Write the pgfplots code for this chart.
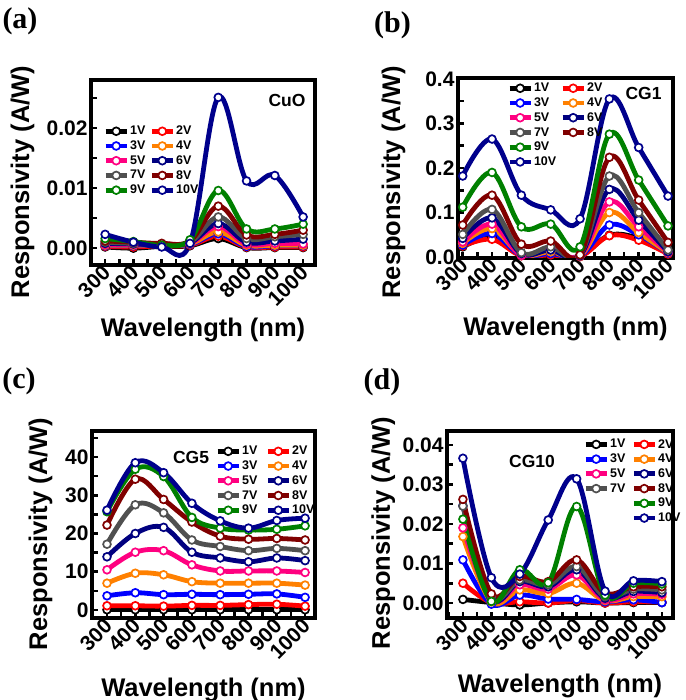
\documentclass[border=0pt]{standalone}
\usepackage{pgfplots}
\usepackage{pgfplotstable}
\pgfplotsset{compat=1.18}
\usepackage{fontspec}
\setmainfont{Liberation Sans}
\newfontfamily\serifb{Liberation Serif}

\definecolor{c1}{RGB}{0,0,0}
\definecolor{c2}{RGB}{255,0,0}
\definecolor{c3}{RGB}{0,0,255}
\definecolor{c4}{RGB}{255,128,0}
\definecolor{c5}{RGB}{255,0,128}
\definecolor{c6}{RGB}{0,0,128}
\definecolor{c7}{RGB}{80,80,80}
\definecolor{c8}{RGB}{128,0,0}
\definecolor{c9}{RGB}{0,128,0}
\definecolor{c10}{RGB}{0,0,140}

\pgfplotstableread{
x v1 v2 v3 v4 v5 v6 v7 v8 v9 v10
300 0.0002 0.0003 0.0004 0.0005 0.0006 0.0008 0.0010 0.0012 0.0016 0.0023
400 0.0000 0.0002 0.0004 0.0005 0.0006 0.0007 0.0008 0.0010 0.0011 0.0010
500 0.0003 0.0004 0.0005 0.0005 0.0006 0.0006 0.0007 0.0008 0.0005 0.0002
600 0.0004 0.0005 0.0006 0.0007 0.0008 0.0009 0.0010 0.0012 0.0014 0.0008
700 0.0016 0.0020 0.0024 0.0027 0.0036 0.0041 0.0052 0.0070 0.0096 0.0251
800 0.0001 0.0002 0.0003 0.0005 0.0007 0.0010 0.0016 0.0022 0.0032 0.0112
900 0.0001 0.0002 0.0004 0.0005 0.0008 0.0012 0.0019 0.0023 0.0032 0.0121
1000 0.0001 0.0002 0.0004 0.0005 0.0007 0.0015 0.0023 0.0030 0.0040 0.0052
}\dataA

\pgfplotstableread{
x v1 v2 v3 v4 v5 v6 v7 v8 v9 v10
300 0.023 0.025 0.027 0.031 0.034 0.042 0.051 0.072 0.112 0.182
400 0.044 0.040 0.053 0.064 0.074 0.088 0.107 0.139 0.190 0.265
500 0.004 0.003 0.004 0.005 0.004 0.008 0.010 0.029 0.068 0.139
600 0.004 0.005 0.008 0.012 0.020 0.016 0.023 0.036 0.074 0.106
700 0.002 0.001 0.002 0.002 0.003 0.003 0.005 0.005 0.023 0.086
800 0.049 0.048 0.072 0.100 0.124 0.152 0.182 0.224 0.276 0.355
900 0.042 0.038 0.050 0.055 0.068 0.083 0.100 0.128 0.173 0.246
1000 0.010 0.007 0.009 0.010 0.011 0.012 0.016 0.033 0.070 0.137
}\dataB

\pgfplotstableread{
x v1 v2 v3 v4 v5 v6 v7 v8 v9 v10
300 0.05 1.1 3.7 7.0 10.5 13.9 17.2 22.2 25.7 26.1
400 0.05 1.1 4.5 9.6 15.1 20.0 27.5 34.2 36.8 38.5
500 0.05 1.0 4.0 9.2 15.5 21.6 25.4 28.9 34.9 35.9
600 0.05 1.2 4.1 7.4 11.8 15.1 18.3 23.0 24.2 27.9
700 0.05 1.2 4.0 7.0 10.2 13.6 16.6 19.3 21.4 23.3
800 0.05 1.4 4.1 7.0 10.2 12.6 15.5 18.5 20.9 21.4
900 0.05 1.5 4.2 7.0 10.2 13.6 16.1 18.7 21.1 23.4
1000 0.05 1.0 3.3 6.5 9.8 12.9 15.5 18.3 22.0 24.0
}\dataC

\pgfplotstableread{
x v1 v2 v3 v4 v5 v6 v7 v8 v9 v10
300 0.0009 0.0050 0.0109 0.0168 0.0190 0.0246 0.0245 0.0262 0.0212 0.0366
400 0.0001 0.0001 -0.0003 0.0003 0.0008 0.0012 0.0016 0.0023 0.0004 0.0064
500 -0.0005 0.0003 0.0020 0.0033 0.0046 0.0054 0.0058 0.0067 0.0084 0.0073
600 0.0000 0.0000 0.0010 0.0024 0.0035 0.0041 0.0046 0.0054 0.0051 0.0210
700 0.0003 0.0006 0.0009 0.0050 0.0071 0.0084 0.0092 0.0109 0.0244 0.0314
800 0.0000 0.0000 0.0003 0.0006 0.0008 0.0012 0.0016 0.0025 0.0020 0.0030
900 0.0001 0.0003 0.0008 0.0016 0.0023 0.0029 0.0035 0.0041 0.0050 0.0056
1000 0.0001 0.0002 0.0001 0.0016 0.0022 0.0026 0.0033 0.0041 0.0048 0.0054
}\dataD

\pgfplotsset{
  pl/.style={color=#1, line width=4.8pt, smooth, tension=0.6, mark=*, mark size=3.9pt,
    mark options={fill=white, draw=#1, line width=1.7pt, solid}},
  myax/.style={
    scale only axis,
    axis line style={line width=4.3pt, line cap=rect},
    tick align=inside,
    xtick pos=bottom, ytick pos=left,
    tick style={line width=2.6pt, black},
    major tick length=5.5pt, minor tick length=5.5pt,
    scaled y ticks=false,
    /pgf/number format/assume math mode=true,
    tick label style={font=\fontsize{21}{23}\selectfont\bfseries},
    xtick={300,400,500,600,700,800,900,1000},
    minor xtick={250,350,450,550,650,750,850,950,1050},
    xticklabel style={rotate=45, anchor=east, inner sep=1pt, yshift=-4pt, xshift=-1pt},
    xticklabel={\pgfmathprintnumber[fixed,precision=0,1000 sep={}]{\tick}},
    label style={font=\fontsize{25.5}{28}\selectfont\bfseries},
    xlabel={Wavelength (nm)},
    ylabel={Responsivity (A/W)},
    xlabel style={anchor=north},
    ylabel style={anchor=north},
    legend style={draw=none, fill=none, anchor=north west, inner sep=0pt,
      font=\fontsize{12.5}{13}\selectfont\bfseries, row sep=2.5pt,
      nodes={inner sep=1pt}},
    legend columns=2,
    legend cell align=left,
    legend image code/.code={\draw[mark repeat=2,mark phase=2,##1] plot coordinates {(0pt,0pt) (10.5pt,0pt) (21pt,0pt)};},
  },
}

\begin{document}
\begin{tikzpicture}
\useasboundingbox (0,0) rectangle (685pt,700pt);

% (a)
\begin{axis}[myax, at={(91pt,435pt)}, anchor=south west, width=224pt, height=185pt,
  xmin=250, xmax=1042, ymin=-0.0028, ymax=0.028,
  ytick={0,0.01,0.02}, minor ytick={0.005,0.015,0.025},
  yticklabel style={/pgf/number format/.cd,fixed,fixed zerofill,precision=2},
  ylabel style={at={(axis description cs:-0.375,0.449)}},
  xlabel style={at={(axis description cs:0.5,-0.27)}},
  legend style={at={(axis description cs:0.054,0.757)}, /tikz/every even column/.append style={column sep=3pt}}]
\addplot[pl=c1] table[y=v1]{\dataA}; \addlegendentry{1V}
\addplot[pl=c2] table[y=v2]{\dataA}; \addlegendentry{2V}
\addplot[pl=c3] table[y=v3]{\dataA}; \addlegendentry{3V}
\addplot[pl=c4] table[y=v4]{\dataA}; \addlegendentry{4V}
\addplot[pl=c5] table[y=v5]{\dataA}; \addlegendentry{5V}
\addplot[pl=c6] table[y=v6]{\dataA}; \addlegendentry{6V}
\addplot[pl=c7] table[y=v7]{\dataA}; \addlegendentry{7V}
\addplot[pl=c8] table[y=v8]{\dataA}; \addlegendentry{8V}
\addplot[pl=c9] table[y=v9]{\dataA}; \addlegendentry{9V}
\addplot[pl=c10] table[y=v10]{\dataA}; \addlegendentry{10V}
\end{axis}

% (b)
\begin{axis}[myax, at={(458pt,442pt)}, anchor=south west, width=215pt, height=180pt,
  xmin=284, xmax=1017, ymin=-0.002, ymax=0.402,
  ytick={0,0.1,0.2,0.3,0.4}, minor ytick={0.05,0.15,0.25,0.35},
  yticklabel style={/pgf/number format/.cd,fixed,fixed zerofill,precision=1},
  ylabel style={at={(axis description cs:-0.372,0.42)}},
  xlabel style={at={(axis description cs:0.5,-0.31)}},
  legend style={at={(axis description cs:0.228,0.978)}, /tikz/every even column/.append style={column sep=3pt}}]
\addplot[pl=c1] table[y=v1]{\dataB}; \addlegendentry{1V}
\addplot[pl=c2] table[y=v2]{\dataB}; \addlegendentry{2V}
\addplot[pl=c3] table[y=v3]{\dataB}; \addlegendentry{3V}
\addplot[pl=c4] table[y=v4]{\dataB}; \addlegendentry{4V}
\addplot[pl=c5] table[y=v5]{\dataB}; \addlegendentry{5V}
\addplot[pl=c6] table[y=v6]{\dataB}; \addlegendentry{6V}
\addplot[pl=c7] table[y=v7]{\dataB}; \addlegendentry{7V}
\addplot[pl=c8] table[y=v8]{\dataB}; \addlegendentry{8V}
\addplot[pl=c9] table[y=v9]{\dataB}; \addlegendentry{9V}
\addlegendimage{empty legend}\addlegendentry{}
\addplot[pl=c10] table[y=v10]{\dataB}; \addlegendentry{10V}
\end{axis}

% (c)
\begin{axis}[myax, at={(92pt,82pt)}, anchor=south west, width=223pt, height=187pt,
  xmin=247, xmax=1035, ymin=-2.1, ymax=46.8,
  ytick={0,10,20,30,40}, minor ytick={5,15,25,35,45},
  ylabel style={at={(axis description cs:-0.30,0.449)}},
  xlabel style={at={(axis description cs:0.5,-0.30)}},
  legend style={at={(axis description cs:0.552,0.925)}, /tikz/every even column/.append style={column sep=7pt}}]
\addplot[pl=c1] table[y=v1]{\dataC}; \addlegendentry{1V}
\addplot[pl=c2] table[y=v2]{\dataC}; \addlegendentry{2V}
\addplot[pl=c3] table[y=v3]{\dataC}; \addlegendentry{3V}
\addplot[pl=c4] table[y=v4]{\dataC}; \addlegendentry{4V}
\addplot[pl=c5] table[y=v5]{\dataC}; \addlegendentry{5V}
\addplot[pl=c6] table[y=v6]{\dataC}; \addlegendentry{6V}
\addplot[pl=c7] table[y=v7]{\dataC}; \addlegendentry{7V}
\addplot[pl=c8] table[y=v8]{\dataC}; \addlegendentry{8V}
\addplot[pl=c9] table[y=v9]{\dataC}; \addlegendentry{9V}
\addplot[pl=c10] table[y=v10]{\dataC}; \addlegendentry{10V}
\end{axis}

% (d)
\begin{axis}[myax, at={(447pt,82pt)}, anchor=south west, width=226pt, height=187pt,
  xmin=244, xmax=1039, ymin=-0.0038, ymax=0.0435,
  ytick={0,0.01,0.02,0.03,0.04}, minor ytick={0.005,0.015,0.025,0.035},
  yticklabel style={/pgf/number format/.cd,fixed,fixed zerofill,precision=2},
  ylabel style={at={(axis description cs:-0.35,0.455)}},
  xlabel style={at={(axis description cs:0.5,-0.283)}},
  legend style={at={(axis description cs:0.602,0.962)}, /tikz/every even column/.append style={column sep=5pt}}]
\addplot[pl=c1] table[y=v1]{\dataD}; \addlegendentry{1V}
\addplot[pl=c2] table[y=v2]{\dataD}; \addlegendentry{2V}
\addplot[pl=c3] table[y=v3]{\dataD}; \addlegendentry{3V}
\addplot[pl=c4] table[y=v4]{\dataD}; \addlegendentry{4V}
\addplot[pl=c5] table[y=v5]{\dataD}; \addlegendentry{5V}
\addplot[pl=c6] table[y=v6]{\dataD}; \addlegendentry{6V}
\addplot[pl=c7] table[y=v7]{\dataD}; \addlegendentry{7V}
\addplot[pl=c8] table[y=v8]{\dataD}; \addlegendentry{8V}
\addlegendimage{empty legend}\addlegendentry{}
\addplot[pl=c9] table[y=v9]{\dataD}; \addlegendentry{9V}
\addlegendimage{empty legend}\addlegendentry{}
\addplot[pl=c10] table[y=v10]{\dataD}; \addlegendentry{10V}
\end{axis}

% annotations
\node[font=\fontsize{17.5}{19}\selectfont\bfseries] at (287pt,600pt) {CuO};
\node[font=\fontsize{17.5}{19}\selectfont\bfseries] at (643.5pt,606.5pt) {CG1};
\node[font=\fontsize{17.5}{19}\selectfont\bfseries] at (191pt,243pt) {CG5};
\node[font=\fontsize{17.5}{19}\selectfont\bfseries] at (532pt,239pt) {CG10};

\node[font=\serifb\fontsize{30}{32}\selectfont\bfseries] at (20pt,679pt) {(a)};
\node[font=\serifb\fontsize{30}{32}\selectfont\bfseries] at (392.5pt,674.5pt) {(b)};
\node[font=\serifb\fontsize{30}{32}\selectfont\bfseries] at (19pt,318.5pt) {(c)};
\node[font=\serifb\fontsize{30}{32}\selectfont\bfseries] at (382pt,317.5pt) {(d)};
\end{tikzpicture}
\end{document}
